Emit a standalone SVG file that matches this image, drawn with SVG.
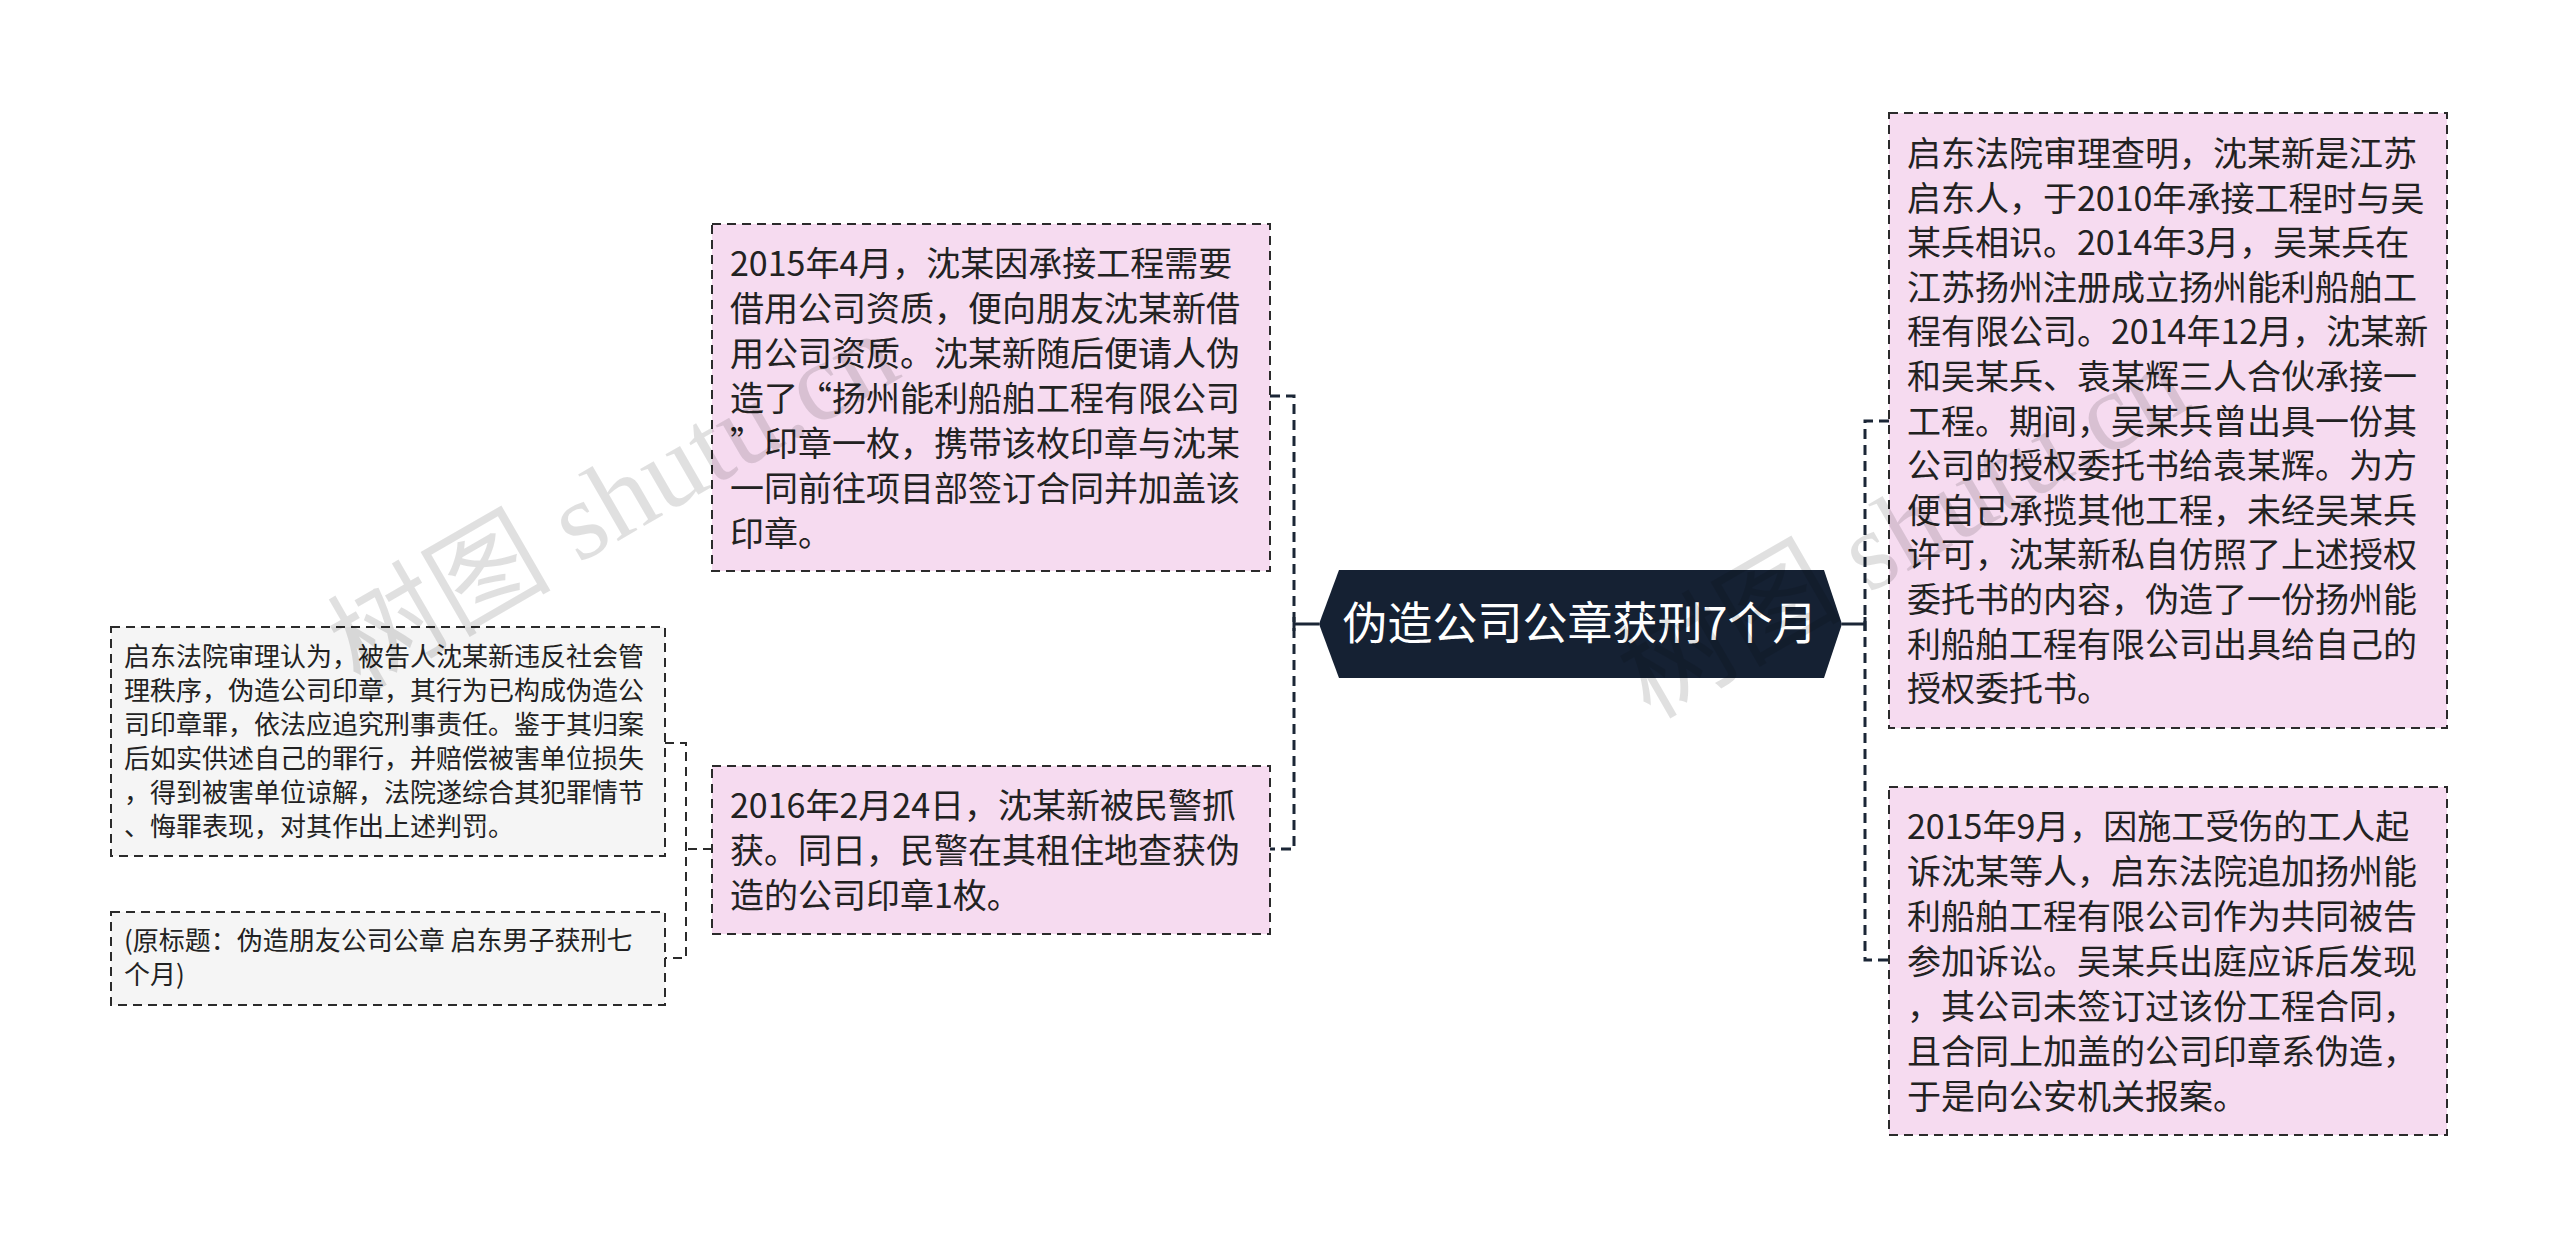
<svg xmlns="http://www.w3.org/2000/svg" width="2560" height="1248" viewBox="0 0 2560 1248">
<style>
.box{stroke:#2b2b2b;stroke-width:2;stroke-dasharray:9 6;}
.pink{fill:#f6dbf0;}
.gray{fill:#f5f5f5;}
.t{font-family:"Microsoft YaHei","Noto Sans CJK SC","Noto Sans",sans-serif;fill:#222;}
.big{font-size:34px;}
.small{font-size:26px;}
.conn{fill:none;stroke:#1b2636;stroke-width:3;stroke-dasharray:10 6;}
.conn2{fill:none;stroke:#2b2b2b;stroke-width:2;stroke-dasharray:9 6;}
.solid{fill:none;stroke:#1b2636;stroke-width:3;}
.wm{font-family:"Liberation Serif","Noto Sans CJK SC",serif;font-size:112px;fill:#000;fill-opacity:0.12;}
</style>
<rect width="2560" height="1248" fill="#ffffff"/>
<g id="connectors">
<path class="conn" d="M1270 396 H1294 V849 H1270"/>
<path class="solid" d="M1319 624 H1294 M1294 617 V631"/>
<path class="conn" d="M1889 421 H1865 V960 H1889"/>
<path class="solid" d="M1842 624 H1865 M1865 617 V631"/>
<path class="conn2" d="M665 743 H686 V958 H665"/>
<path class="conn2" d="M712 849 H686"/>
</g>
<g id="center">
<polygon points="1319,624 1339,570 1824,570 1842,624 1824,678 1339,678" fill="#152133"/>
<text class="t" x="1580" y="640" font-size="45" style="fill:#fff" text-anchor="middle">伪造公司公章获刑7个月</text>
</g>
<g id="nodeA">
<rect class="box pink" x="712" y="224" width="558" height="347"/>
<text class="t big" x="730" y="276">
<tspan x="730" dy="0">2015年4月，沈某因承接工程需要</tspan>
<tspan x="730" dy="45">借用公司资质，便向朋友沈某新借</tspan>
<tspan x="730" dy="45">用公司资质。沈某新随后便请人伪</tspan>
<tspan x="730" dy="45">造了“扬州能利船舶工程有限公司</tspan>
<tspan x="730" dy="45">”印章一枚，携带该枚印章与沈某</tspan>
<tspan x="730" dy="45">一同前往项目部签订合同并加盖该</tspan>
<tspan x="730" dy="45">印章。</tspan>
</text>
</g>
<g id="nodeB">
<rect class="box pink" x="712" y="766" width="558" height="168"/>
<text class="t big" x="730" y="818">
<tspan x="730" dy="0">2016年2月24日，沈某新被民警抓</tspan>
<tspan x="730" dy="45">获。同日，民警在其租住地查获伪</tspan>
<tspan x="730" dy="45">造的公司印章1枚。</tspan>
</text>
</g>
<g id="nodeC">
<rect class="box gray" x="111" y="627" width="554" height="229"/>
<text class="t small" x="124" y="666">
<tspan x="124" dy="0">启东法院审理认为，被告人沈某新违反社会管</tspan>
<tspan x="124" dy="34">理秩序，伪造公司印章，其行为已构成伪造公</tspan>
<tspan x="124" dy="34">司印章罪，依法应追究刑事责任。鉴于其归案</tspan>
<tspan x="124" dy="34">后如实供述自己的罪行，并赔偿被害单位损失</tspan>
<tspan x="124" dy="34">，得到被害单位谅解，法院遂综合其犯罪情节</tspan>
<tspan x="124" dy="34">、悔罪表现，对其作出上述判罚。</tspan>
</text>
</g>
<g id="nodeD">
<rect class="box gray" x="111" y="912" width="554" height="93"/>
<text class="t small" x="124" y="950">
<tspan x="124" dy="0">(原标题：伪造朋友公司公章 启东男子获刑七</tspan>
<tspan x="124" dy="34">个月)</tspan>
</text>
</g>
<g id="nodeE">
<rect class="box pink" x="1889" y="113" width="558" height="615"/>
<text class="t big" x="1907" y="166">
<tspan x="1907" dy="0">启东法院审理查明，沈某新是江苏</tspan>
<tspan x="1907" dy="44.6">启东人，于2010年承接工程时与吴</tspan>
<tspan x="1907" dy="44.6">某兵相识。2014年3月，吴某兵在</tspan>
<tspan x="1907" dy="44.6">江苏扬州注册成立扬州能利船舶工</tspan>
<tspan x="1907" dy="44.6">程有限公司。2014年12月，沈某新</tspan>
<tspan x="1907" dy="44.6">和吴某兵、袁某辉三人合伙承接一</tspan>
<tspan x="1907" dy="44.6">工程。期间，吴某兵曾出具一份其</tspan>
<tspan x="1907" dy="44.6">公司的授权委托书给袁某辉。为方</tspan>
<tspan x="1907" dy="44.6">便自己承揽其他工程，未经吴某兵</tspan>
<tspan x="1907" dy="44.6">许可，沈某新私自仿照了上述授权</tspan>
<tspan x="1907" dy="44.6">委托书的内容，伪造了一份扬州能</tspan>
<tspan x="1907" dy="44.6">利船舶工程有限公司出具给自己的</tspan>
<tspan x="1907" dy="44.6">授权委托书。</tspan>
</text>
</g>
<g id="nodeF">
<rect class="box pink" x="1889" y="787" width="558" height="348"/>
<text class="t big" x="1907" y="839">
<tspan x="1907" dy="0">2015年9月，因施工受伤的工人起</tspan>
<tspan x="1907" dy="45">诉沈某等人，启东法院追加扬州能</tspan>
<tspan x="1907" dy="45">利船舶工程有限公司作为共同被告</tspan>
<tspan x="1907" dy="45">参加诉讼。吴某兵出庭应诉后发现</tspan>
<tspan x="1907" dy="45">，其公司未签订过该份工程合同，</tspan>
<tspan x="1907" dy="45">且合同上加盖的公司印章系伪造，</tspan>
<tspan x="1907" dy="45">于是向公安机关报案。</tspan>
</text>
</g>
<g id="watermarks">
<text class="wm" transform="translate(360,690) rotate(-30)">树图 shutu.cn</text>
<text class="wm" transform="translate(1650,720) rotate(-30)">树图 shutu.cn</text>
</g>
</svg>
